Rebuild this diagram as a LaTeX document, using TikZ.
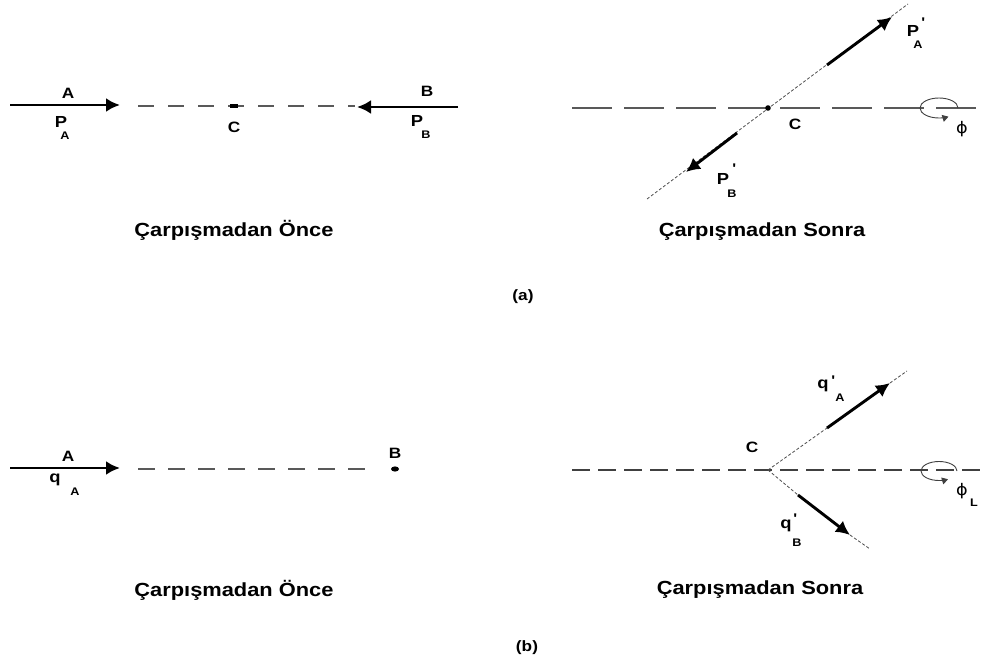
\documentclass[tikz,border=0pt]{standalone}
\usepackage{fontspec}
\setmainfont{Liberation Sans}[FakeStretch=1.15]
\newfontfamily\phifont{DejaVu Sans}[FakeStretch=1.1]
\usetikzlibrary{arrows.meta,calc}
\begin{document}
\begin{tikzpicture}[x=1pt,y=-1pt,
 vec/.style={line width=2.9pt,-{Latex[length=14pt,width=14pt]}},
 hdashA/.style={line width=1.3pt,black!65,dash pattern=on 16pt off 14pt},
 hdashB/.style={line width=1.3pt,black!65,dash pattern=on 40pt off 12pt},
 hdashC/.style={line width=1.3pt,black!65,dash pattern=on 17pt off 13pt},
 hdashD/.style={line width=1.3pt,black!75,dash pattern=on 18pt off 8pt},
 fine/.style={line width=0.8pt,black!70,dash pattern=on 3pt off 2pt},
 lab/.style={font=\bfseries\fontsize{15}{15}\selectfont,inner sep=0pt},
 big/.style={font=\bfseries\fontsize{16}{16}\selectfont,inner sep=0pt},
 sub/.style={font=\bfseries\fontsize{11}{11}\selectfont,inner sep=0pt},
 prm/.style={font=\bfseries\fontsize{14}{14}\selectfont,inner sep=0pt},
 captxt/.style={font=\bfseries\fontsize{19}{19}\selectfont,inner sep=0pt},
 phil/.style={font=\phifont\fontsize{16}{16}\selectfont,inner sep=0pt},
 loopa/.style={line width=0.9pt,black!75,-{Triangle[length=6pt,width=7pt]}},
 dot/.style={fill=black,draw=none}
]
\useasboundingbox (0,0) rectangle (986,668);

% ---------------- (a) before ----------------
\coordinate (A1s) at (10,105);
\coordinate (A1e) at (120,105);
\coordinate (D1s) at (138,106);
\coordinate (D1e) at (355,106);
\coordinate (C1) at (234,106);
\coordinate (B1s) at (458,107);
\coordinate (B1e) at (357,107);
\draw[hdashA] (D1s) -- (D1e);
\fill[dot] ($(C1)+(-4,-1.6)$) rectangle ($(C1)+(4,1.6)$);
\draw[vec] (A1s) -- (A1e);
\draw[vec] (B1s) -- (B1e);
\node[lab] (lA1) at (68,93) {A};
\node[big] (lPA) at (61,122) {P};
\node[sub] (lPAs) at (65,136) {A};
\node[lab] (lC1) at (234,127) {C};
\node[lab] (lB1) at (427,91) {B};
\node[big] (lPB) at (417,121) {P};
\node[sub] (lPBs) at (426,135) {B};
\node[captxt] (cap1) at (234,230) {Çarpışmadan Önce};

% ---------------- (a) after ----------------
\coordinate (H2s) at (572,108);
\coordinate (H2e) at (986,108);
\coordinate (C2) at (768,108);
\coordinate (L2s) at (647,199);
\coordinate (L2e) at (908,4);
\coordinate (PA2s) at (827,65);
\coordinate (PA2e) at (892,17);
\coordinate (PB2s) at (737,133);
\coordinate (PB2e) at (686,172);
\draw[hdashB] (H2s) -- (H2e);
\draw[fine] (L2s) -- (L2e);
\fill[dot] (C2) circle[radius=2.8pt];
\draw[vec] (PA2s) -- (PA2e);
\draw[vec] (PB2s) -- (PB2e);
\node[big] (lPA2) at (913,31) {P};
\node[prm] (lPA2p) at (923,23) {\textquotesingle};
\node[sub] (lPA2s) at (918,45) {A};
\node[big] (lPB2) at (723,179) {P};
\node[prm] (lPB2p) at (734,169) {\textquotesingle};
\node[sub] (lPB2s) at (732,194) {B};
\node[lab] (lC2) at (795,124) {C};
\draw[loopa] (958,108) arc[start angle=0,end angle=300,x radius=19pt,y radius=10pt];
\node[phil] (phi1) at (962,129) {ϕ};
\node[captxt] (cap2) at (762,232) {Çarpışmadan Sonra};

\node[lab] (la) at (523,297) {(a)};

% ---------------- (b) before ----------------
\coordinate (A3s) at (10,468);
\coordinate (A3e) at (120,468);
\coordinate (D3s) at (138,469);
\coordinate (D3e) at (377,469);
\coordinate (B3) at (395,469);
\draw[hdashC] (D3s) -- (D3e);
\fill[dot] (B3) ellipse[x radius=4pt,y radius=2.6pt];
\draw[vec] (A3s) -- (A3e);
\node[lab] (lA3) at (68,456) {A};
\node[big] (lqA) at (55,480) {q};
\node[sub] (lqAs) at (75,492) {A};
\node[lab] (lB3) at (395,453) {B};
\node[captxt] (cap3) at (234,590) {Çarpışmadan Önce};

% ---------------- (b) after ----------------
\coordinate (H4s) at (572,470);
\coordinate (H4e) at (986,470);
\coordinate (C4) at (768,470);
\coordinate (U4a) at (827,428);
\coordinate (U4b) at (890,383);
\coordinate (U4c) at (907,371);
\coordinate (W4a) at (798,495);
\coordinate (W4b) at (850,535);
\coordinate (W4c) at (870,549);
\draw[hdashD] (H4s) -- (H4e);
\draw[fine] (C4) -- (U4a);
\draw[fine] (U4b) -- (U4c);
\draw[fine] (C4) -- (W4a);
\draw[fine] (W4b) -- (W4c);
\draw[vec] (U4a) -- (U4b);
\draw[vec] (W4a) -- (W4b);
\node[lab] (lC4) at (752,447) {C};
\node[big] (lqA4) at (823,386) {q};
\node[prm] (lqA4p) at (833,381) {\textquotesingle};
\node[sub] (lqA4s) at (840,398) {A};
\node[big] (lqB4) at (786,526) {q};
\node[prm] (lqB4p) at (795,519) {\textquotesingle};
\node[sub] (lqB4s) at (797,543) {B};
\draw[loopa] (957,471) arc[start angle=0,end angle=300,x radius=18pt,y radius=9.5pt];
\node[phil] (phi2) at (962,491) {ϕ};
\node[sub] (lL) at (974,503) {L};
\node[captxt] (cap4) at (760,590) {Çarpışmadan Sonra};

\node[lab] (lb) at (527,648) {(b)};
\end{tikzpicture}
\end{document}
